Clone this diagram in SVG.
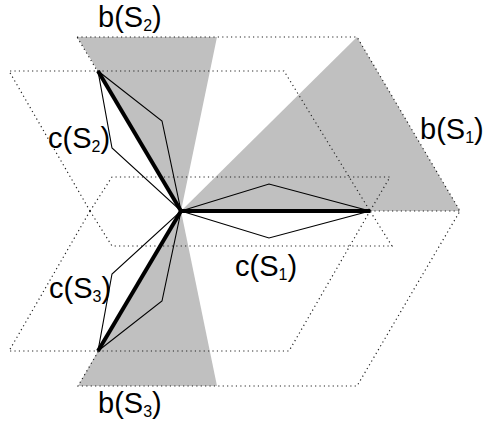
<svg xmlns="http://www.w3.org/2000/svg" width="484" height="426" viewBox="0 0 484 426">
<style>
.cone{fill:#c0c0c0;stroke:none}
.dot{fill:none;stroke:#222;stroke-width:1.2;stroke-dasharray:1.2 3.2}
.thin{fill:none;stroke:#000;stroke-width:1.1;stroke-linejoin:miter}
.thick{fill:none;stroke:#000;stroke-width:4;stroke-linecap:butt}
text{font-family:"Liberation Sans",Arial,sans-serif;font-size:29px;fill:#000}
.sub{font-size:16px}
</style>
<rect width="484" height="426" fill="#fff"/>
<g id="cones">
<polygon id="bS2" class="cone" points="77,37 217,37 181,211 98,71"/>
<polygon id="bS3" class="cone" points="98,351 78,386 217,386 181,211"/>
<polygon id="bS1" class="cone" points="181,211 357,37 460,211"/>
</g>
<g id="connectors">
<path class="dot" d="M77,37 L357,37 L460,211 L357,386 L78,386 L181,211 Z"/>
<path class="dot" d="M90,211 L9,71 L284,71 L370,211"/>
<path class="dot" d="M90,211 L112,177 L390,177 L370,211"/>
<path class="dot" d="M90,211 L9,351 L289,351 L370,211"/>
<path class="dot" d="M90,211 L112,246 L392,246 L370,211"/>
<path class="dot" d="M370,211 L460,211"/>
</g>
<g id="cS1"><polygon class="thin" points="181,211 269,184 370,211 269,238"/></g>
<g id="cS2"><polygon class="thin" points="98,71 162,121 181,211 112,148"/></g>
<g id="cS3"><polygon class="thin" points="98,351 162,301 181,211 112,274"/></g>
<g id="S1"><line class="thick" x1="181" y1="211" x2="370" y2="211"/></g>
<g id="S2"><line class="thick" x1="181" y1="211" x2="98" y2="71"/></g>
<g id="S3"><line class="thick" x1="181" y1="211" x2="98" y2="351"/></g>
<g id="labels">
<text x="98" y="27">b(S<tspan class="sub" dy="4">2</tspan><tspan dy="-4">)</tspan></text>
<text x="48" y="148">c(S<tspan class="sub" dy="4">2</tspan><tspan dy="-4">)</tspan></text>
<text x="420" y="139">b(S<tspan class="sub" dy="4">1</tspan><tspan dy="-4">)</tspan></text>
<text x="235" y="276">c(S<tspan class="sub" dy="4">1</tspan><tspan dy="-4">)</tspan></text>
<text x="49" y="298">c(S<tspan class="sub" dy="4">3</tspan><tspan dy="-4">)</tspan></text>
<text x="98" y="413">b(S<tspan class="sub" dy="4">3</tspan><tspan dy="-4">)</tspan></text>
</g>
</svg>
